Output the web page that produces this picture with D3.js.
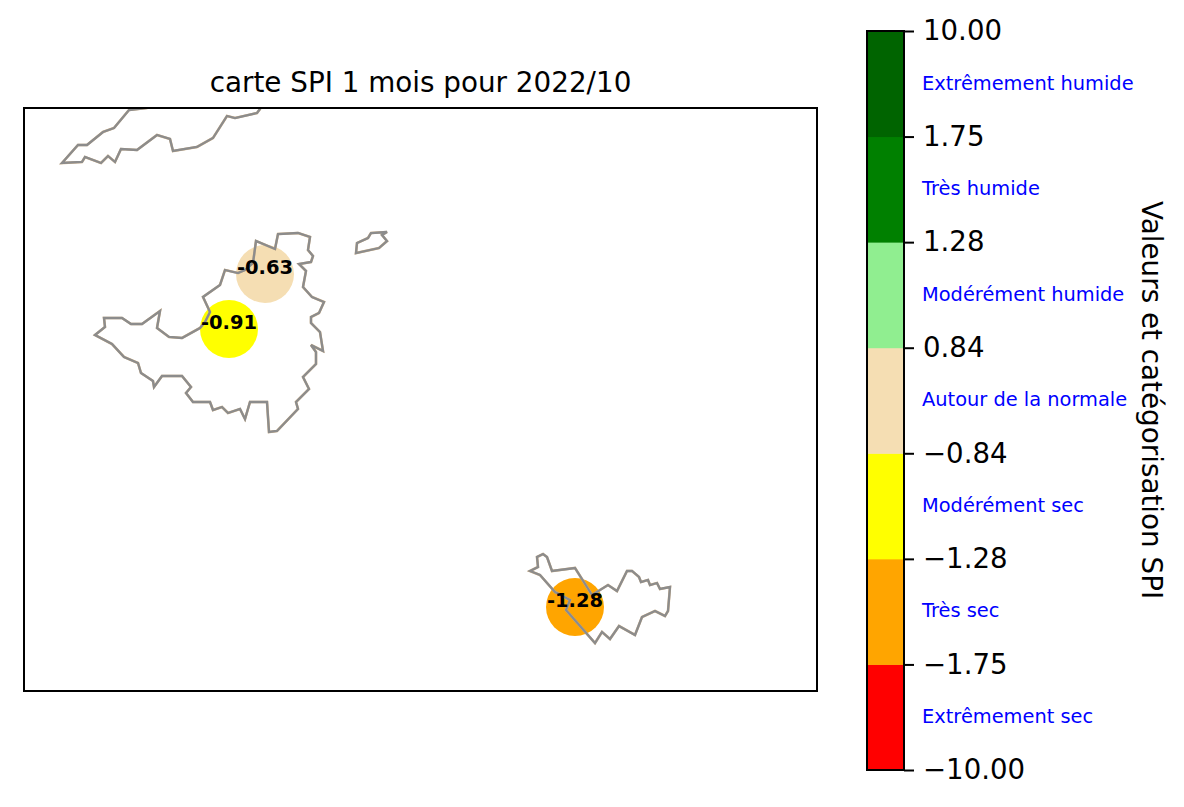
<!DOCTYPE html>
<html>

<head>
  <style>
    body {
      margin: 0;
      background: #fff;
    }

    text {
      font-family: "DejaVu Sans", sans-serif;
    }
  </style>
</head>

<body>
  <script src="https://d3js.org/d3.v7.min.js"></script>
  <svg id="chart" width="1184" height="807"></svg>

  <script>
    // coast outlines as [lon, lat]
    var saintMartin = [
      [-63.1574, 18.0638], [-63.1514, 18.0686], [-63.152, 18.074], [-63.1412, 18.074], [-63.1358, 18.0704],
      [-63.1292, 18.0704], [-63.1184, 18.0782], [-63.1202, 18.068], [-63.113, 18.0626], [-63.1052, 18.062],
      [-63.0944, 18.068], [-63.0914, 18.0716], [-63.0884, 18.0776], [-63.0926, 18.0866], [-63.0824, 18.0938],
      [-63.0794, 18.1028], [-63.0716, 18.101], [-63.0674, 18.1028], [-63.0626, 18.107], [-63.0608, 18.1202],
      [-63.0494, 18.1154], [-63.0476, 18.1244], [-63.0356, 18.125], [-63.0284, 18.1226], [-63.0296, 18.1148],
      [-63.0266, 18.1112], [-63.0278, 18.1076], [-63.035, 18.1064], [-63.0308, 18.1022], [-63.0326, 18.0926],
      [-63.0272, 18.0866], [-63.02, 18.0836], [-63.023, 18.077], [-63.0278, 18.0746], [-63.0278, 18.071],
      [-63.0224, 18.0656], [-63.0206, 18.0542], [-63.0278, 18.0578], [-63.0248, 18.0536], [-63.0248, 18.0464],
      [-63.0326, 18.0386], [-63.029, 18.0314], [-63.0368, 18.0236], [-63.0356, 18.0194], [-63.0482, 18.0062],
      [-63.053, 18.0056], [-63.0542, 18.0236], [-63.0644, 18.0236], [-63.0674, 18.0134], [-63.0704, 18.0194],
      [-63.0776, 18.017], [-63.0812, 18.0206], [-63.0866, 18.0188], [-63.0884, 18.0236], [-63.0986, 18.0236],
      [-63.1028, 18.029], [-63.0998, 18.0326], [-63.1052, 18.0392], [-63.1172, 18.0392], [-63.122, 18.0326],
      [-63.1226, 18.0362], [-63.1298, 18.041], [-63.1316, 18.047], [-63.14, 18.0506], [-63.1472, 18.0584]
    ];
    var tintamarre = [
      [-63.0008, 18.113], [-63.0002, 18.119], [-62.9936, 18.122], [-62.9918, 18.125],
      [-62.9822, 18.1256], [-62.9852, 18.1238], [-62.9822, 18.1202], [-62.987, 18.116]
    ];
    var saintBarth = [
      [-62.8964, 17.9222], [-62.8916, 17.9246], [-62.8922, 17.9306], [-62.8886, 17.9324], [-62.8862, 17.9306],
      [-62.8832, 17.9222], [-62.8694, 17.924], [-62.8592, 17.9078], [-62.8496, 17.9138], [-62.8442, 17.9102],
      [-62.8382, 17.9222], [-62.8352, 17.9222], [-62.831, 17.9186], [-62.8298, 17.9156], [-62.8256, 17.9168],
      [-62.8244, 17.9138], [-62.8202, 17.915], [-62.8184, 17.9114], [-62.8124, 17.9126], [-62.8136, 17.8982],
      [-62.8154, 17.8952], [-62.8214, 17.8982], [-62.8292, 17.8946], [-62.8334, 17.8838], [-62.843, 17.8892],
      [-62.8484, 17.8814], [-62.8532, 17.8856], [-62.8574, 17.879], [-62.8748, 17.8988], [-62.8724, 17.9048],
      [-62.8814, 17.9096], [-62.8904, 17.9198]
    ];
    var anguilla = [
      [-63.1772, 18.167], [-63.1676, 18.1778], [-63.1622, 18.1778], [-63.1526, 18.1856], [-63.146, 18.188],
      [-63.137, 18.1988], [-63.1262, 18.2], [-63.1184, 18.2048], [-63.0572, 18.2048], [-63.0584, 18.1994],
      [-63.0602, 18.197], [-63.0734, 18.194], [-63.0782, 18.1952], [-63.0866, 18.182], [-63.0962, 18.1766],
      [-63.1106, 18.1742], [-63.1124, 18.1814], [-63.1202, 18.1838], [-63.1322, 18.1748], [-63.1418, 18.1754],
      [-63.1454, 18.1676], [-63.1496, 18.1712], [-63.1538, 18.167], [-63.1634, 18.1706], [-63.1652, 18.1676]
    ];
    var coasts = [saintMartin, tintamarre, saintBarth, anguilla];

    // stations
    var stationLon = [-63.0554, -63.077, -62.8694];
    var stationLat = [18.1004, 18.0674, 17.9006];
    var stationSpi = [-0.63, -0.91, -1.28];

    // colorbar
    var boundaries = [-10, -1.75, -1.28, -0.84, 0.84, 1.28, 1.75, 10];
    var classColors = ['red', 'orange', 'yellow', 'wheat', 'lightgreen', 'green', 'darkgreen'];
    var classNames = ['Extrêmement sec', 'Très sec', 'Modérément sec', 'Autour de la normale',
      'Modérément humide', 'Très humide', 'Extrêmement humide'];

    var svg = d3.select('#chart');

    var mapLeft = 24, mapRight = 817, mapTop = 108, mapBottom = 691;

    var x = d3.scaleLinear().domain([-63.2, -62.7242]).range([mapLeft, mapRight]);
    var y = d3.scaleLinear().domain([17.8502, 18.2]).range([mapBottom, mapTop]);

    svg.append('clipPath').attr('id', 'mapClip')
      .append('rect')
      .attr('x', mapLeft).attr('y', mapTop)
      .attr('width', mapRight - mapLeft).attr('height', mapBottom - mapTop);

    var map = svg.append('g').attr('clip-path', 'url(#mapClip)');

    var color = d3.scaleThreshold().domain(boundaries.slice(1, -1)).range(classColors);

    // -1.28 falls in the orange class in the original, hence the small shift
    map.selectAll('circle')
      .data(stationSpi)
      .enter()
      .append('circle')
      .attr('cx', function(d, i) { return x(stationLon[i]); })
      .attr('cy', function(d, i) { return y(stationLat[i]); })
      .attr('r', 29)
      .attr('fill', function(d) { return color(d - 0.001); });

    var line = d3.line()
      .x(function(d) { return x(d[0]); })
      .y(function(d) { return y(d[1]); })
      .curve(d3.curveLinearClosed);

    // tan coast under a grey one, two layers in the original too
    map.selectAll('path.under')
      .data(coasts)
      .enter()
      .append('path')
      .attr('class', 'under')
      .attr('d', line)
      .attr('fill', 'none')
      .attr('stroke', 'tan')
      .attr('stroke-width', 2.6);

    map.selectAll('path.coast')
      .data(coasts)
      .enter()
      .append('path')
      .attr('class', 'coast')
      .attr('d', line)
      .attr('fill', 'none')
      .attr('stroke', '#8c8c8c')
      .attr('stroke-width', 2.3);

    svg.selectAll('text.spi')
      .data(stationSpi)
      .enter()
      .append('text')
      .attr('class', 'spi')
      .attr('x', function(d, i) { return x(stationLon[i]); })
      .attr('y', function(d, i) { return y(stationLat[i]); })
      .attr('text-anchor', 'middle')
      .attr('font-size', 19.5)
      .attr('font-weight', 'bold')
      .attr('fill', 'black')
      .text(function(d) { return d.toFixed(2); });

    svg.append('rect')
      .attr('x', mapLeft).attr('y', mapTop)
      .attr('width', mapRight - mapLeft).attr('height', mapBottom - mapTop)
      .attr('fill', 'none')
      .attr('stroke', 'black')
      .attr('stroke-width', 2);

    svg.append('text')
      .attr('x', (mapLeft + mapRight) / 2)
      .attr('y', 92)
      .attr('text-anchor', 'middle')
      .attr('font-size', 27.8)
      .text('carte SPI 1 mois pour 2022/10');

    // colorbar, boundaries are evenly spaced
    var barLeft = 867, barRight = 904, barTop = 31, barBottom = 770;

    var barScale = d3.scalePoint()
      .domain(boundaries)
      .range([barBottom, barTop]);

    var classStep = barScale.step();

    svg.selectAll('rect.cls')
      .data(classColors)
      .enter()
      .append('rect')
      .attr('class', 'cls')
      .attr('x', barLeft)
      .attr('y', function(d, i) { return barScale(boundaries[i + 1]); })
      .attr('width', barRight - barLeft)
      .attr('height', classStep + 0.5)
      .attr('fill', function(d) { return d; });

    svg.append('rect')
      .attr('x', barLeft).attr('y', barTop)
      .attr('width', barRight - barLeft).attr('height', barBottom - barTop)
      .attr('fill', 'none')
      .attr('stroke', 'black')
      .attr('stroke-width', 2);

    var barAxis = d3.axisRight(barScale)
      .tickSize(10)
      .tickPadding(9)
      .tickFormat(function(d) { return d3.format('.2f')(d).replace('-', '\u2212'); });

    var axisG = svg.append('g')
      .attr('transform', 'translate(' + barRight + ',0)')
      .call(barAxis);

    axisG.select('.domain').remove();
    axisG.selectAll('.tick line').attr('stroke', 'black').attr('stroke-width', 2);
    axisG.selectAll('.tick text')
      .attr('fill', 'black')
      .attr('font-size', 27.6)
      .attr('font-family', '"DejaVu Sans", sans-serif');

    svg.selectAll('text.cls')
      .data(classNames)
      .enter()
      .append('text')
      .attr('class', 'cls')
      .attr('x', 922)
      .attr('y', function(d, i) { return barScale(boundaries[i]) - classStep / 2; })
      .attr('dy', '0.3em')
      .attr('font-size', 19.4)
      .attr('fill', 'blue')
      .text(function(d) { return d; });

    svg.append('text')
      .attr('transform', 'translate(1142,400) rotate(90)')
      .attr('text-anchor', 'middle')
      .attr('font-size', 27.8)
      .text('Valeurs et catégorisation SPI');
  </script>
</body>

</html>
